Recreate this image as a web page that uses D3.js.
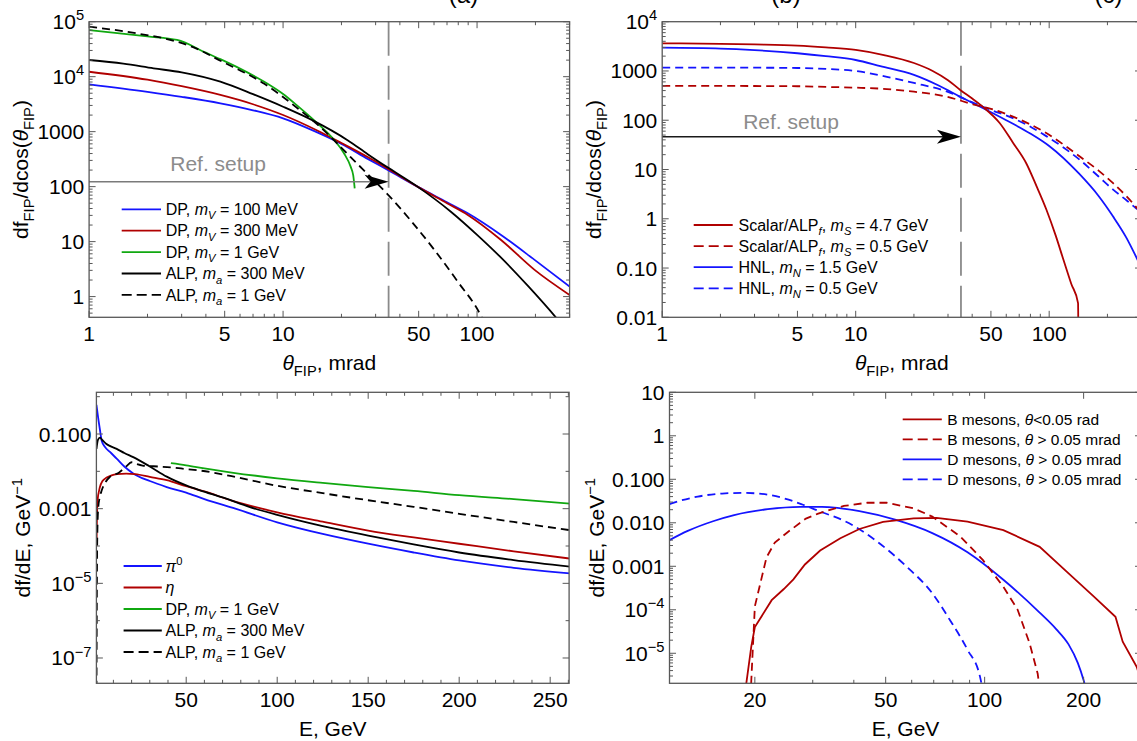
<!DOCTYPE html>
<html>
<head>
<meta charset="utf-8">
<script src="https://cdn.jsdelivr.net/npm/d3@7"></script>
<style>
  body { margin: 0; background: #fff; }
  svg { display: block; font-family: "Liberation Sans", Arial, sans-serif; }
</style>
</head>
<body>
<script>
// ---------- data: panel (a), theta in mrad vs df/dcos ----------
const dp100 = [[1,7270],[2,5300],[3,4300],[4.75,3280],[7,2450],[10,1750],[15,970],[20,600],[27.3,320],[35.2,195],[49.3,100],[70,52],[89.6,32.7],[133,13.2],[198,4.65],[300,1.52]]
const dp300 = [[1,12300],[2,8800],[3,6700],[4.75,4650],[7,3150],[10,2010],[15,1050],[20,620],[27.3,345],[35.2,205],[49.3,100],[70,50],[89.6,30.6],[133,10.7],[198,3.06],[300,1.07]]
const dp1G = [[1,70600],[2,54000],[2.84,46500],[4,27350],[4.75,20800],[6,14000],[8,8080],[10,4840],[12,2850],[15,1427],[18.3,711],[20.6,405],[22.3,231],[23,160],[23.4,93]]
const alp300 = [[1,20100],[1.5,17300],[2.15,14200],[3,12000],[4.75,8110],[7,4800],[10,2840],[14.3,1585],[21.5,700],[27.3,390],[35.2,215],[49.3,100],[73.3,35],[100.7,13],[133,5.1],[183,1.56],[256,0.41],[280,0.28]]
const alp1G = [[1,81100],[1.76,61400],[2.84,43300],[3.46,34150],[4.75,19500],[8,7430],[12,2590],[15,1356],[18,743],[20,508],[22.3,343],[25,230],[30,121],[35.2,68],[45.6,24],[60.2,7.1],[79.4,1.88],[105,0.44],[112,0.27]]

// ---------- data: panel (b) ----------
const scalar47 = [[1,3640],[2,3560],[3,3450],[5,3260],[7,3000],[10,2670],[14,2100],[20,1450],[25,1000],[30,650],[34.7,412],[40,275],[45.6,185],[55.6,87],[65,35],[76.1,13.4],[86,4.6],[96.9,1.51],[108,0.46],[118.5,0.147],[130,0.048],[141,0.0194],[141.5,0.005]]
const scalar05 = [[1,497],[2,497],[3,495],[5,490],[7,475],[10,458],[14.5,430],[20,380],[29.5,301],[40.4,210],[50,170],[65,118],[80,82],[97,54.5],[120,31],[144,18.3],[180,9.5],[214,5.27],[250,2.9],[281,1.75],[300,1.3]]
const hnl15 = [[1,2970],[2,2850],[3,2650],[5,2290],[7,2000],[10,1670],[13.4,1250],[20,830],[27,500],[34.7,300],[45.6,175],[60,100],[79.4,54.5],[100,30],[142,8.4],[180,2.9],[214,1.11],[250,0.42],[281,0.171],[300,0.1]]
const hnl05 = [[1,1170],[3,1165],[5,1150],[7,1100],[10,1000],[14.5,760],[20,570],[29.5,385],[40.4,228],[50,162],[65,110],[80,74],[97,47],[120,27],[144,15.7],[180,7.2],[214,3.9],[250,2.4],[281,1.64],[300,1.35]]

// ---------- data: panel (c), E in GeV vs df/dE ----------
const pi0 = [[0.7,0.6],[1.5,0.3],[2.6,0.13],[3.6,0.065],[5.4,0.045],[8.1,0.033],[11.8,0.022],[16,0.0135],[20.9,0.0088],[30,0.0055],[39.3,0.0038],[50,0.0027],[60,0.0018],[77,0.001],[100,4.3e-4],[125,2.1e-4],[150,1.15e-4],[175,6.7e-5],[200,4.1e-5],[230,2.6e-5],[261,1.85e-5]]
const eta = [[0.72,1e-4],[1.2,1.5e-3],[2.6,0.0038],[4,0.0055],[6.3,0.0068],[9,0.0078],[12,0.0084],[17,0.0087],[22,0.0084],[30,0.0071],[39.3,0.0058],[50,0.004],[60,0.0029],[75,0.00165],[100,8e-4],[125,4.5e-4],[150,2.6e-4],[175,1.7e-4],[200,1.15e-4],[230,7.2e-5],[261,4.6e-5]]
const dp1GE = [[41.6,0.0165],[50,0.0145],[60,0.012],[75,0.0093],[100,0.0065],[125,0.0049],[150,0.0038],[175,0.003],[200,0.0023],[230,0.0018],[261,0.00137]]
const alp300E = [[0.7,0.04],[1.5,0.07],[2.6,0.08],[4,0.068],[6,0.055],[8,0.048],[11.8,0.04],[16,0.031],[20.9,0.024],[30,0.0135],[39.3,0.0072],[50,0.0042],[57.6,0.0031],[70,0.002],[85,0.0011],[100,6.8e-4],[125,3.4e-4],[150,1.9e-4],[175,1.1e-4],[200,6.7e-5],[230,4.2e-5],[261,2.8e-5]]
const alp1GE = [[0.72,1.5e-8],[0.85,1e-6],[1.0,3e-5],[1.2,2.5e-4],[1.7,0.0011],[2.5,0.002],[3.6,0.0031],[5.5,0.005],[8.1,0.0071],[13,0.0092],[17,0.0135],[20,0.0175],[23,0.0155],[26,0.0143],[32,0.0137],[42.9,0.0126],[50,0.0115],[57.6,0.0105],[75,0.0074],[100,0.0041],[125,0.0026],[150,0.00168],[175,0.00112],[200,7.3e-4],[230,4.4e-4],[261,2.65e-4]]

// ---------- data: panel (d) ----------
const bMesonA = [[18.6,1e-6],[19.5,1.4e-5],[20,4e-5],[22.5,1.66e-4],[24.5,3e-4],[26.2,5e-4],[28.4,1.1e-3],[31.6,2.3e-3],[36.4,4.4e-3],[41.6,7.2e-3],[49.1,1.05e-2],[60.8,1.26e-2],[71.4,1.3e-2],[88.7,1.06e-2],[114,6.8e-3],[147,2.8e-3],[180,6.9e-4],[215,2e-4],[250,6.9e-5],[263,1.85e-5],[290,4.9e-6],[305,1.5e-6]]
const bMesonB = [[19.4,1e-6],[20,1.2e-4],[21.7,1.6e-3],[23,3.5e-3],[25.1,6e-3],[28.6,0.0125],[31,0.016],[34.7,0.021],[37.3,0.0244],[43.9,0.0289],[50.4,0.0289],[60.8,0.0215],[69.3,0.0139],[84.2,4.9e-3],[98.7,1.4e-3],[114,3.4e-4],[126,1e-4],[137,1.7e-5],[145,3.4e-6],[148,1e-6]]
const dMesonA = [[11,0.004],[12.5,0.0065],[15,0.011],[17.3,0.015],[21.9,0.0205],[27.5,0.0232],[32,0.0233],[41.6,0.0185],[53.4,0.0118],[69.3,0.0058],[88.7,0.0021],[114,4.9e-4],[147,8.6e-5],[165,3.6e-5],[180,1.6e-5],[192,6e-6],[200,2.4e-6],[206,1e-6]]
const dMesonB = [[11,0.027],[12,0.033],[13.4,0.04],[15.9,0.047],[18.5,0.0487],[22,0.044],[25,0.035],[28,0.026],[32,0.0175],[37,0.0115],[40,0.0085],[47.3,0.0036],[57.9,0.00098],[69.3,2.4e-4],[78.3,5.9e-5],[88.7,1.2e-5],[96.8,2.9e-6],[99,1.2e-6]]

// reference setup: angle cut and arrow heights
const refTheta = 35
const refArrowA = 123
const refArrowB = 46.4

// tick values and labels
const thetaTicks = [1, 5, 10, 50, 100]
const thetaLabels = ["1", "5", "10", "50", "100"]
const yTicksA = [1, 10, 100, 1000, 1e4, 1e5]
const yLabelsA = ["1", "10", "100", "1000", "10^4", "10^5"]
const yTicksB = [0.01, 0.1, 1, 10, 100, 1000, 1e4]
const yLabelsB = ["0.01", "0.10", "1", "10", "100", "1000", "10^4"]
const eTicksC = [50, 100, 150, 200, 250]
const eLabelsC = ["50", "100", "150", "200", "250"]
const yTicksC = [0.1, 1e-3, 1e-5, 1e-7]
const yLabelsC = ["0.100", "0.001", "10^\u22125", "10^\u22127"]
const yMinorC = [1, 1e-2, 1e-4, 1e-6]
const eTicksD = [20, 50, 100, 200]
const eLabelsD = ["20", "50", "100", "200"]
const yTicksD = [10, 1, 0.1, 0.01, 1e-3, 1e-4, 1e-5]
const yLabelsD = ["10", "1", "0.100", "0.010", "0.001", "10^\u22124", "10^\u22125"]

// legend texts: [text, style] pieces
const legendA = [
  [["DP, ",""],["m","i"],["V","isub"],[" = 100 MeV",""]],
  [["DP, ",""],["m","i"],["V","isub"],[" = 300 MeV",""]],
  [["DP, ",""],["m","i"],["V","isub"],[" = 1 GeV",""]],
  [["ALP, ",""],["m","i"],["a","isub"],[" = 300 MeV",""]],
  [["ALP, ",""],["m","i"],["a","isub"],[" = 1 GeV",""]]
]
const legendB = [
  [["Scalar/ALP",""],["f","isub"],[", ",""],["m","i"],["S","isub"],[" = 4.7 GeV",""]],
  [["Scalar/ALP",""],["f","isub"],[", ",""],["m","i"],["S","isub"],[" = 0.5 GeV",""]],
  [["HNL, ",""],["m","i"],["N","isub"],[" = 1.5 GeV",""]],
  [["HNL, ",""],["m","i"],["N","isub"],[" = 0.5 GeV",""]]
]
const legendC = [
  [["\u03c0","i"],["0","sup"]],
  [["\u03b7","i"]],
  [["DP, ",""],["m","i"],["V","isub"],[" = 1 GeV",""]],
  [["ALP, ",""],["m","i"],["a","isub"],[" = 300 MeV",""]],
  [["ALP, ",""],["m","i"],["a","isub"],[" = 1 GeV",""]]
]
const legendD = [
  [["B mesons, ",""],["\u03b8","i"],["<0.05 rad",""]],
  [["B mesons, ",""],["\u03b8","i"],[" > 0.05 mrad",""]],
  [["D mesons, ",""],["\u03b8","i"],[" > 0.05 mrad",""]],
  [["D mesons, ",""],["\u03b8","i"],[" > 0.05 mrad",""]]
]

const BLUE = "#1414ff", RED = "#b00000", GREEN = "#10a810", BLACK = "#000"
const FRAME = "#585858"

const svg = d3.select("body").append("svg")
  .attr("width", 1137).attr("height", 741)
const defs = svg.append("defs")

// text with italic / sub / sup pieces
function rich(g, x, y, parts, size, anchor) {
  const t = g.append("text").attr("x", x).attr("y", y)
    .attr("font-size", size).attr("text-anchor", anchor || "start").attr("fill", "#000")
  let shift = 0
  parts.forEach(([s, k]) => {
    const sp = t.append("tspan").text(s)
    let target = 0
    if (k.includes("sub")) { target = size * 0.27; sp.attr("font-size", size * 0.7) }
    if (k.includes("sup")) { target = -size * 0.42; sp.attr("font-size", size * 0.7) }
    if (k.startsWith("i")) sp.attr("font-style", "italic")
    if (target !== shift) { sp.attr("dy", target - shift); shift = target }
  })
  return t
}
// "10^4" -> pieces
function tickParts(s) {
  const i = s.indexOf("^")
  return i < 0 ? [[s, ""]] : [[s.slice(0, i), ""], [s.slice(i + 1), "sup"]]
}

function panel(id, box, x, y) {
  const g = svg.append("g")
  defs.append("clipPath").attr("id", "clip-" + id).append("rect")
    .attr("x", box.l).attr("y", box.t).attr("width", box.r - box.l).attr("height", box.b - box.t)
  const plot = g.append("g").attr("clip-path", `url(#clip-${id})`)
  return { g, plot, box, x, y }
}

function curve(p, data, color, dash, type) {
  p.plot.append("path").datum(data)
    .attr("fill", "none").attr("stroke", color).attr("stroke-width", 1.8)
    .attr("stroke-dasharray", dash ? "8,5" : null)
    .attr("d", d3.line().x(d => p.x(d[0])).y(d => p.y(d[1])).curve(type || d3.curveMonotoneX))
}

function frame(p, xMajor, xLabels, xMinor, yMajor, yLabels, yMinor) {
  const { g, box, x, y } = p
  const tk = g.append("g").attr("stroke", FRAME).attr("stroke-width", 1)
  const inX = v => x(v) >= box.l - 0.5 && x(v) <= box.r + 0.5
  const inY = v => y(v) <= box.b + 0.5 && y(v) >= box.t - 0.5
  const vt = (v, len) => {
    tk.append("line").attr("x1", x(v)).attr("x2", x(v)).attr("y1", box.b).attr("y2", box.b - len)
    tk.append("line").attr("x1", x(v)).attr("x2", x(v)).attr("y1", box.t).attr("y2", box.t + len)
  }
  const ht = (v, len) => {
    tk.append("line").attr("y1", y(v)).attr("y2", y(v)).attr("x1", box.l).attr("x2", box.l + len)
    tk.append("line").attr("y1", y(v)).attr("y2", y(v)).attr("x1", box.r).attr("x2", box.r - len)
  }
  xMinor.filter(inX).forEach(v => vt(v, 3.5))
  xMajor.filter(inX).forEach(v => vt(v, 6.5))
  yMinor.filter(inY).forEach(v => ht(v, 3.5))
  yMajor.filter(inY).forEach(v => ht(v, 6.5))
  g.append("rect").attr("x", box.l).attr("y", box.t)
    .attr("width", box.r - box.l).attr("height", box.b - box.t)
    .attr("fill", "none").attr("stroke", FRAME).attr("stroke-width", 1.3)
  xMajor.forEach((v, i) => rich(g, x(v), box.b + 23.5, tickParts(xLabels[i]), 21, "middle"))
  yMajor.forEach((v, i) => rich(g, box.l - 5, y(v) + 7.5, tickParts(yLabels[i]), 21, "end"))
}

function titles(p, xt, yt, yOff) {
  const { g, box } = p
  rich(g, (box.l + box.r) / 2, box.b + 53, xt, 21, "middle")
  rich(g, 0, 0, yt, 21, "middle")
    .attr("transform", `translate(${box.l - yOff},${(box.t + box.b) / 2}) rotate(-90)`)
}

function legend(p, labels, styles, x0, x1, xt, y0, dy, size) {
  labels.forEach((lab, i) => {
    const yy = y0 + i * dy
    p.g.append("line").attr("x1", x0).attr("x2", x1).attr("y1", yy).attr("y2", yy)
      .attr("stroke", styles[i][0]).attr("stroke-width", 1.8)
      .attr("stroke-dasharray", styles[i][1] ? "10,5" : null)
    rich(p.g, xt, yy + size * 0.36, lab, size, "start")
  })
}

// dashed angle cut now, arrow + label returned to draw over the curves
function refSetup(p, yArrow, lineColor, textGap) {
  const { plot, g, box, x, y } = p
  plot.append("line").attr("x1", x(refTheta)).attr("x2", x(refTheta))
    .attr("y1", box.t).attr("y2", box.b)
    .attr("stroke", "#8a8a8a").attr("stroke-width", 1.8).attr("stroke-dasharray", "34,10")
  return () => {
    const xe = x(refTheta), ya = y(yArrow)
    g.append("line").attr("x1", box.l).attr("x2", xe - 16).attr("y1", ya).attr("y2", ya)
      .attr("stroke", lineColor).attr("stroke-width", 1.5)
    g.append("path").attr("fill", "#000")
      .attr("d", `M${xe},${ya} L${xe - 24},${ya - 7} L${xe - 18},${ya} L${xe - 24},${ya + 7} Z`)
    g.append("text").attr("x", x(2.62)).attr("y", ya - textGap)
      .attr("font-size", 21).attr("fill", "#8c8c8c").text("Ref. setup")
  }
}

const thetaTitle = [["\u03b8","i"],["FIP","sub"],[", mrad",""]]
const dfTitle = [["df",""],["FIP","sub"],["/dcos(",""],["\u03b8","i"],["FIP","sub"],[")",""]]
const eTitle = [["E, GeV",""]]
const dEtitle = [["df/dE, GeV",""],["\u22121","sup"]]

// ---------- panel (a) ----------
{
  const box = { l: 89.1, t: 21.7, r: 569.6, b: 317.3 }
  const x = d3.scaleLog().domain([1, 300]).range([box.l, box.r])
  const y = d3.scaleLog().domain([0.42, 1e5]).range([box.b, box.t])
  const p = panel("a", box, x, y)
  const arrow = refSetup(p, refArrowA, "#7a7a7a", 11)
  curve(p, dp100, BLUE)
  curve(p, dp300, RED)
  curve(p, dp1G, GREEN)
  curve(p, alp300, BLACK)
  curve(p, alp1G, BLACK, true)
  arrow()
  frame(p, thetaTicks, thetaLabels, x.ticks().filter(v => !thetaTicks.includes(v)),
    yTicksA, yLabelsA, y.ticks().filter(v => !yTicksA.includes(v)))
  titles(p, thetaTitle, dfTitle, 61)
  legend(p, legendA, [[BLUE], [RED], [GREEN], [BLACK], [BLACK, 1]], 121.7, 161, 165.7, 209.3, 21.4, 16)
}

// ---------- panel (b) ----------
{
  const box = { l: 662.2, t: 21.7, r: 1141.5, b: 317.3 }
  const x = d3.scaleLog().domain([1, 300]).range([box.l, box.r])
  const y = d3.scaleLog().domain([0.01, 1e4]).range([box.b, box.t])
  const p = panel("b", box, x, y)
  const arrow = refSetup(p, refArrowB, "#1a1a1a", 8)
  curve(p, hnl15, BLUE)
  curve(p, hnl05, BLUE, true)
  curve(p, scalar47, RED)
  curve(p, scalar05, RED, true)
  arrow()
  frame(p, thetaTicks, thetaLabels, x.ticks().filter(v => !thetaTicks.includes(v)),
    yTicksB, yLabelsB, y.ticks().filter(v => !yTicksB.includes(v)))
  titles(p, thetaTitle, dfTitle, 61)
  legend(p, legendB, [[RED], [RED, 1], [BLUE], [BLUE, 1]], 693.7, 732.7, 738.5, 225, 21.1, 16)
}

// ---------- panel (c) ----------
{
  const box = { l: 96.4, t: 392.3, r: 569.1, b: 683.3 }
  const x = d3.scaleLinear().domain([0.66, 260.4]).range([box.l, box.r])
  const y = d3.scaleLog().domain([2.1e-8, 1.31]).range([box.b, box.t])
  const p = panel("c", box, x, y)
  curve(p, pi0, BLUE)
  curve(p, eta, RED)
  curve(p, dp1GE, GREEN)
  curve(p, alp300E, BLACK)
  curve(p, alp1GE, BLACK, true)
  frame(p, eTicksC, eLabelsC, x.ticks(26).filter(v => !eTicksC.includes(v)),
    yTicksC, yLabelsC, yMinorC)
  titles(p, eTitle, dEtitle, 66)
  legend(p, legendC, [[BLUE], [RED], [GREEN], [BLACK], [BLACK, 1]], 123.6, 161.8, 165.5, 566, 21.5, 16)
}

// ---------- panel (d) ----------
{
  const box = { l: 669.5, t: 392.3, r: 1141.5, b: 683.3 }
  const x = d3.scaleLog().domain([11, 300]).range([box.l, box.r])
  const y = d3.scaleLog().domain([2.04e-6, 10]).range([box.b, box.t])
  const p = panel("d", box, x, y)
  curve(p, dMesonB, BLUE, true)
  curve(p, dMesonA, BLUE)
  curve(p, bMesonB, RED, true, d3.curveLinear)
  curve(p, bMesonA, RED, false, d3.curveLinear)
  frame(p, eTicksD, eLabelsD, x.ticks().filter(v => !eTicksD.includes(v)),
    yTicksD, yLabelsD, y.ticks().filter(v => !yTicksD.includes(v)))
  titles(p, eTitle, dEtitle, 66)
  legend(p, legendD, [[RED], [RED, 1], [BLUE], [BLUE, 1]], 902.7, 941.8, 947.2, 419.3, 20, 15.5)
}

// panel letters, cut at the top edge of the figure as in the source
const letters = [["(a)", 463.5], ["(b)", 786], ["(c)", 1108.5]]
letters.forEach(([s, cx]) => svg.append("text").attr("x", cx).attr("y", 3)
  .attr("font-size", 24).attr("text-anchor", "middle").text(s))
</script>
</body>
</html>
